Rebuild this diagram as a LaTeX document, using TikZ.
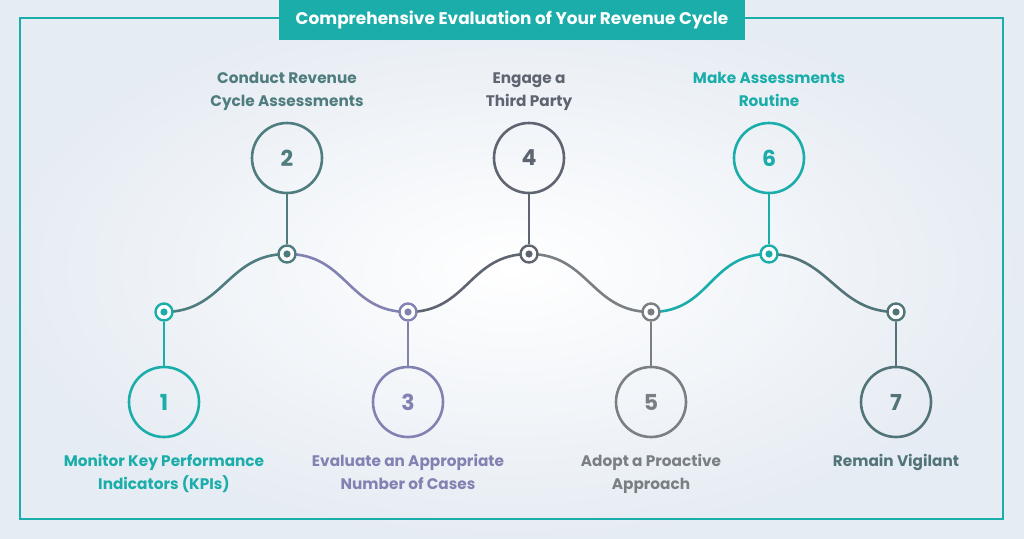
\documentclass[tikz,border=0pt]{standalone}
\usepackage{fontspec}
\setmainfont{Poppins}
\usetikzlibrary{positioning}
\definecolor{teal1}{HTML}{1AADA9}
\definecolor{slate2}{HTML}{4F7C7E}
\definecolor{lav3}{HTML}{8282B2}
\definecolor{gray4}{HTML}{5E6470}
\definecolor{gray5}{HTML}{7A7F84}
\definecolor{slate7}{HTML}{527478}
\definecolor{bgblue}{HTML}{E6ECF3}
\tikzset{
  numcirc/.style={circle, draw=#1, line width=2.6pt, minimum size=70pt, inner sep=0pt,
    text=#1, font=\fontsize{22}{22}\selectfont\bfseries},
  stepdot/.style={circle, draw=#1, line width=2.4pt, fill=white, minimum size=17pt, inner sep=0pt,
    path picture={\fill[#1] (path picture bounding box.center) circle (3.6pt);}},
  steplabel/.style={text=#1, align=center, font=\fontsize{15.3}{23}\selectfont\bfseries},
  wave/.style={draw=#1, line width=2.6pt},
  stem/.style={draw=#1, line width=2.6pt}
}
\begin{document}
\begin{tikzpicture}[x=1pt,y=-1pt]
  \useasboundingbox (0,0) rectangle (1024,538);
  \shade[inner color=white, outer color=bgblue] (0,0) rectangle (1024,538);
  % Frame and title
  \draw[teal1, line width=2.6pt] (20,18) rectangle (1003,519);
  \node[fill=teal1, minimum width=466pt, minimum height=40pt, text=white,
        font=\fontsize{16.9}{17}\selectfont\bfseries] (title) at (512,20)
        {Comprehensive Evaluation of Your Revenue Cycle};

  % Waves (drawn before dots)
  \coordinate (p1) at (164,312);
  \coordinate (p2) at (287,254);
  \coordinate (p3) at (408,312);
  \coordinate (p4) at (529,254);
  \coordinate (p5) at (651,312);
  \coordinate (p6) at (769,254);
  \coordinate (p7) at (896,312);
  \draw[wave=slate2] (p1) .. controls +(60,0) and +(-60,0) .. (p2);
  \draw[wave=lav3]   (p2) .. controls +(60,0) and +(-60,0) .. (p3);
  \draw[wave=gray4]  (p3) .. controls +(60,0) and +(-60,0) .. (p4);
  \draw[wave=gray5]  (p4) .. controls +(60,0) and +(-60,0) .. (p5);
  \draw[wave=teal1]  (p5) .. controls +(60,0) and +(-60,0) .. (p6);
  \draw[wave=slate7] (p6) .. controls +(60,0) and +(-60,0) .. (p7);

  % Nodes
  \node[stepdot=teal1]  (d1) at (p1) {};
  \node[stepdot=slate2] (d2) at (p2) {};
  \node[stepdot=lav3]   (d3) at (p3) {};
  \node[stepdot=gray4]  (d4) at (p4) {};
  \node[stepdot=gray5]  (d5) at (p5) {};
  \node[stepdot=teal1]  (d6) at (p6) {};
  \node[stepdot=slate7] (d7) at (p7) {};

  \node[numcirc=teal1,  below=44pt of d1] (c1) {1};
  \node[numcirc=slate2, above=50pt of d2] (c2) {2};
  \node[numcirc=lav3,   below=44pt of d3] (c3) {3};
  \node[numcirc=gray4,  above=50pt of d4] (c4) {4};
  \node[numcirc=gray5,  below=44pt of d5] (c5) {5};
  \node[numcirc=teal1,  above=50pt of d6] (c6) {6};
  \node[numcirc=slate7, below=44pt of d7] (c7) {7};

  \node[steplabel=teal1,  below=12pt of c1] (t1) {Monitor Key Performance\\Indicators (KPIs)};
  \node[steplabel=slate2, above=8pt of c2] (t2) {Conduct Revenue\\Cycle Assessments};
  \node[steplabel=lav3,   below=12pt of c3] (t3) {Evaluate an Appropriate\\Number of Cases};
  \node[steplabel=gray4,  above=8pt of c4] (t4) {Engage a\\Third Party};
  \node[steplabel=gray5,  below=12pt of c5] (t5) {Adopt a Proactive\\Approach};
  \node[steplabel=teal1,  above=12pt of c6] (t6) {Make Assessments\\Routine};
  \node[steplabel=slate7, below=12pt of c7] (t7) {Remain Vigilant\\\phantom{A}};

  % Stems
  \draw[stem=teal1]  (d1) -- (c1);
  \draw[stem=slate2] (d2) -- (c2);
  \draw[stem=lav3]   (d3) -- (c3);
  \draw[stem=gray4]  (d4) -- (c4);
  \draw[stem=gray5]  (d5) -- (c5);
  \draw[stem=teal1]  (d6) -- (c6);
  \draw[stem=slate7] (d7) -- (c7);
\end{tikzpicture}
\end{document}
